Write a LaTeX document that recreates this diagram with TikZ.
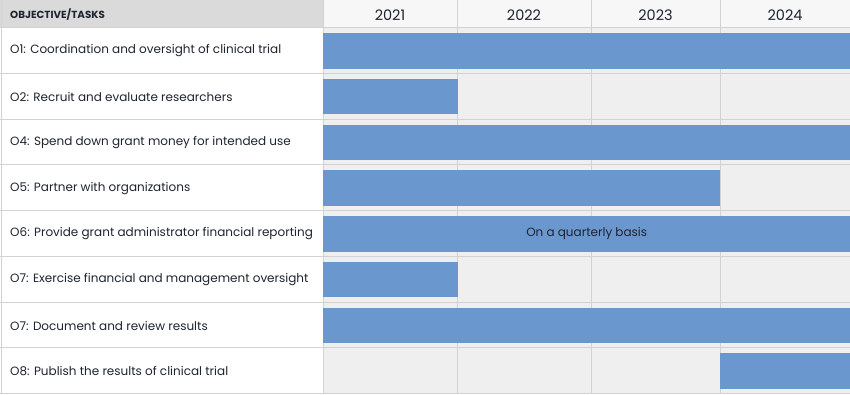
\documentclass[tikz,border=0pt]{standalone}
\usepackage{fontspec}
\setmainfont{Poppins}
\definecolor{barblue}{HTML}{6A98CE}
\definecolor{gridc}{HTML}{D2D2D2}
\definecolor{cellbg}{HTML}{EFEFEF}
\definecolor{hdrbg}{HTML}{DADADA}
\definecolor{yearbg}{HTML}{F7F7F7}
\definecolor{txt}{HTML}{1E2430}
\begin{document}
\begin{tikzpicture}[x=1pt,y=-1pt,
  task/.style={anchor=west,inner sep=0pt,font=\fontsize{12}{14}\selectfont,text=txt},
  year/.style={anchor=center,inner sep=0pt,font=\fontsize{14.5}{16}\selectfont,text=txt},
  bar/.style={fill=barblue,draw=none,inner sep=0pt,anchor=north west,font=\fontsize{12}{14}\selectfont,text=txt},
  grid line/.style={draw=gridc,line width=0.8pt}]
\useasboundingbox (0,0) rectangle (850,395);
% backgrounds
\fill[white] (0,0) rectangle (850,395);
\fill[hdrbg] (0,0) rectangle (323,27.5);
\fill[yearbg] (323,0) rectangle (850,27.5);
\fill[cellbg] (323,27.5) rectangle (850,393);
% grid
\foreach \y in {27.5,73.25,119,164.75,210.5,256.25,302,347.75,393}
  \draw[grid line] (0,\y) -- (850,\y);
\foreach \x in {323,457,591,720}
  \draw[grid line] (\x,0) -- (\x,393);
\draw[grid line] (1,0) -- (1,393);
% header
\node[anchor=west,inner sep=0pt,font=\bfseries\fontsize{10.3}{12}\selectfont,text=txt] (hdr) at (10,14.5) {OBJECTIVE/TASKS};
\node[year] (y1) at (390,15.5) {2021};
\node[year] (y2) at (524,15.5) {2022};
\node[year] (y3) at (655.5,15.5) {2023};
\node[year] (y4) at (785,15.5) {2024};
% task labels
\node[task] (t1) at (10,51) {O1: Coordination and oversight of clinical trial};
\node[task] (t2) at (10,96.8) {O2: Recruit and evaluate researchers};
\node[task] (t3) at (10,142.5) {O4: Spend down grant money for intended use};
\node[task] (t4) at (10,188.3) {O5: Partner with organizations};
\node[task] (t5) at (10,234) {O6: Provide grant administrator financial reporting};
\node[task] (t6) at (10,279.8) {O7: Exercise financial and management oversight};
\node[task] (t7) at (10,325.5) {O7: Document and review results};
\node[task] (t8) at (10,371.3) {O8: Publish the results of clinical trial};
% bars
\node[bar,minimum width=527pt,minimum height=35.5pt] (b1) at (323,33) {};
\node[bar,minimum width=135pt,minimum height=35.5pt] (b2) at (323,78.75) {};
\node[bar,minimum width=527pt,minimum height=35.5pt] (b3) at (323,124.5) {};
\node[bar,minimum width=397pt,minimum height=35.5pt] (b4) at (323,170.25) {};
\node[bar,minimum width=527pt,minimum height=35.5pt] (b5) at (323,216) {On a quarterly basis};
\node[bar,minimum width=135pt,minimum height=35.5pt] (b6) at (323,261.75) {};
\node[bar,minimum width=527pt,minimum height=35.5pt] (b7) at (323,307.5) {};
\node[bar,minimum width=130pt,minimum height=35.5pt] (b8) at (720,353.25) {};
\end{tikzpicture}
\end{document}
